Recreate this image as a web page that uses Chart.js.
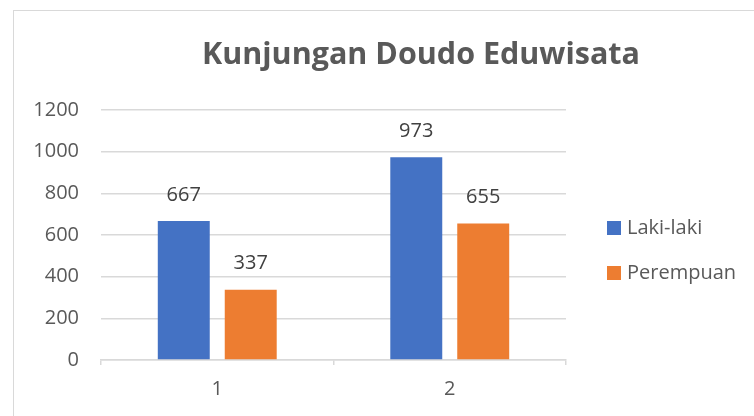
<!DOCTYPE html>
<html>
<head>
<meta charset="utf-8">
<script src="https://cdn.jsdelivr.net/npm/chart.js@4.4.1/dist/chart.umd.min.js"></script>
<style>
  html, body { margin: 0; padding: 0; background: #fff; overflow: hidden; }
  #wrap { position: relative; width: 754px; height: 416px; }
  #frame { position: absolute; left: 13px; top: 10px; width: 760px; height: 420px; border: 1px solid #d9d9d9; }
  #myChart { position: absolute; left: 0; top: 0; }
</style>
</head>
<body>
<div id="wrap">
  <div id="frame"></div>
  <canvas id="myChart" width="754" height="416"></canvas>
</div>
<script>
const chartTitle = "Kunjungan Doudo Eduwisata";
const categories = ["1", "2"];
const lakiLaki = [667, 973];
const perempuan = [337, 655];
const yTicks = [0, 200, 400, 600, 800, 1000, 1200];

const textColor = "#595959";
const fontFamily = "'Open Sans', 'Liberation Sans', sans-serif";

// title, legend and value labels drawn on the canvas
const decorPlugin = {
  id: "decor",
  afterDatasetsDraw(chart) {
    const ctx = chart.ctx;
    const area = chart.chartArea;
    ctx.save();

    // value labels above each bar
    ctx.font = "20px " + fontFamily;
    ctx.fillStyle = "#404040";
    ctx.textAlign = "center";
    ctx.textBaseline = "middle";
    chart.data.datasets.forEach((ds, i) => {
      chart.getDatasetMeta(i).data.forEach((bar, j) => {
        ctx.fillText(ds.data[j], bar.x, bar.y - 26);
      });
    });

    // title
    ctx.font = "bold 30.5px " + fontFamily;
    ctx.fillStyle = textColor;
    ctx.fillText(chartTitle, area.right - 145, 55);

    // legend
    ctx.font = "20px " + fontFamily;
    ctx.textAlign = "left";
    chart.data.datasets.forEach((ds, i) => {
      const y = 228 + i * 45;
      ctx.fillStyle = ds.backgroundColor;
      ctx.fillRect(area.right + 41, y - 7, 14, 14);
      ctx.fillStyle = textColor;
      ctx.fillText(ds.label, area.right + 61, y);
    });
    ctx.restore();
  },
};

let myGraph = new Chart(document.getElementById("myChart"), {
  type: "bar",
  data: {
    labels: categories,
    datasets: [
      {
        label: "Laki-laki",
        data: lakiLaki,
        backgroundColor: "#4472C4",
        categoryPercentage: 0.576,
        barPercentage: 0.776,
      },
      {
        label: "Perempuan",
        data: perempuan,
        backgroundColor: "#ED7D31",
        categoryPercentage: 0.576,
        barPercentage: 0.776,
      },
    ],
  },
  options: {
    responsive: false,
    animation: false,
    layout: {
      padding: { left: 13, top: 110, right: 188, bottom: 0 },
    },
    plugins: {
      legend: { display: false },
      title: { display: false },
      tooltip: { enabled: false },
    },
    scales: {
      x: {
        grid: {
          offset: true,
          drawOnChartArea: false,
          drawTicks: true,
          tickLength: 5,
          color: "#d9d9d9",
          lineWidth: 1.5,
        },
        border: { color: "#d9d9d9", width: 1.5 },
        ticks: {
          color: textColor,
          font: { family: fontFamily, size: 20 },
          padding: 12,
        },
        afterFit(scale) {
          scale.height = 56;
        },
      },
      y: {
        min: 0,
        max: 1200,
        afterBuildTicks(scale) {
          scale.ticks = yTicks.map((v) => ({ value: v }));
        },
        grid: { color: "#d9d9d9", lineWidth: 1.5, drawTicks: false },
        border: { display: false },
        ticks: {
          color: textColor,
          font: { family: fontFamily, size: 20 },
          padding: 22,
          callback: (value) => String(value),
        },
        afterFit(scale) {
          scale.width = 88;
        },
      },
    },
  },
  plugins: [decorPlugin],
});
</script>
</body>
</html>
